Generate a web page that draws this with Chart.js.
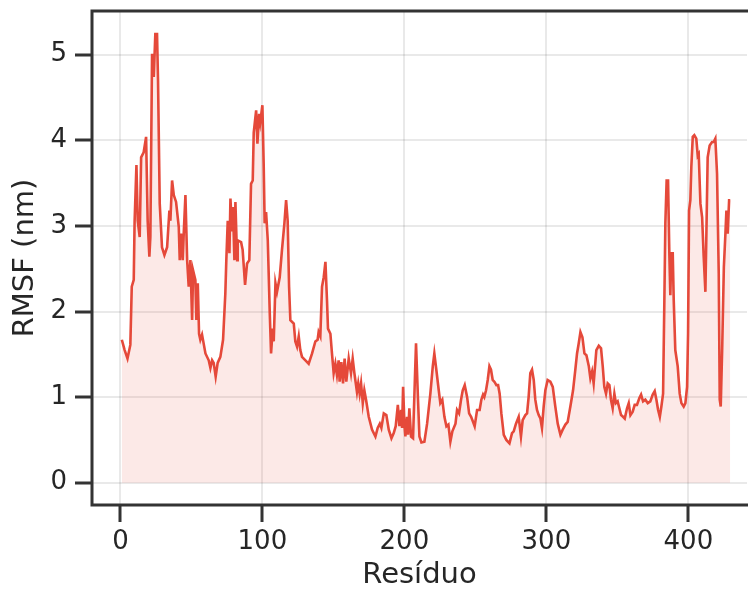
<!DOCTYPE html>
<html>
<head>
<meta charset="utf-8">
<script src="https://cdn.jsdelivr.net/npm/chart.js@4"></script>
<style>
  html, body { margin: 0; padding: 0; background: #fff; overflow: hidden; }
</style>
</head>
<body>
<canvas id="rmsfChart" width="748" height="589"></canvas>
<script>
// --- Dados ---
const residuo = [
  1, 3, 5, 7, 8, 9.4, 10, 11.3, 12.2, 13.6, 14.6, 16.4, 18.1, 19.2, 20.4, 21.1, 22.3, 23.5, 24.6, 25.8,
  26.5, 27.7, 29.3, 31, 32.9, 34.5, 35.2, 36.4, 37.6, 39.2, 41.1, 41.8, 42.7, 43.9, 44.6, 45.8, 47, 48.1, 49.3, 50.5,
  51.2, 52.8, 53.5, 54.5, 55.4, 56.3, 57.5, 59.9, 62.2, 63.4, 64.6, 65.7, 67.1, 68.5, 70.4, 72.3, 73.9, 74.6, 75.6, 76.8,
  77.5, 78.6, 79.3, 80.3, 81, 82.2, 82.6, 85, 86.1, 87.8, 89.2, 90.8, 92, 93.2, 93.9, 95.6, 96.5, 97.7, 98.5, 100,
  100.9, 101.6, 102.6, 103.8, 105.2, 106.1, 107.3, 108, 109.2, 110.3, 112.2, 113.8, 115.5, 116.7, 117.8, 118.8, 119.7, 122.1, 123.2, 124.4,
  125.6, 126.7, 127.9, 130.3, 132.6, 135, 137.3, 138.9, 139.6, 140.8, 142, 143.2, 144.4, 145.5, 146.2, 147.9, 149, 150.2, 151.4, 152.5,
  153.7, 154.4, 155.6, 156.8, 157.9, 159.1, 160.8, 162.4, 163.6, 164.8, 166.6, 167.5, 168.5, 169.5, 170.7, 171.8, 173, 174.9, 177.2, 179.6,
  181.2, 182.7, 183.8, 185.5, 187.3, 189, 190.9, 192.5, 193.9, 195.4, 196.5, 197.7, 198.4, 199.1, 200.1, 200.7, 201.9, 202.6, 203.5, 204.7,
  206.1, 207.3, 208.2, 209.6, 210.6, 212, 214.1, 216, 218.3, 220, 221.1, 222.5, 224.2, 225.3, 226.7, 228.2, 229.6, 231, 232.4, 233.8,
  236, 237.1, 238.5, 239.9, 241.1, 242.5, 244.2, 245.6, 247, 248.4, 249.5, 251.2, 253, 254.2, 255.4, 256.3, 257.5, 258.7, 259.9, 261,
  262.2, 263.4, 264.8, 266, 267.1, 268.3, 270, 271.8, 274, 275.8, 277, 278.6, 280.5, 282.1, 283.3, 285.2, 286.4, 287.5, 288.7, 289.9,
  291.1, 292.2, 293.4, 294.6, 295.8, 296.9, 298.1, 299.3, 300.9, 302.8, 304.5, 306.3, 308, 309.9, 311.5, 313.4, 315, 316.9, 318.8, 320.4,
  321.6, 322.8, 324, 325.4, 326.8, 328.2, 329.9, 331, 332.2, 333.3, 335.2, 336.9, 338.5, 339.7, 340.8, 342, 343.2, 344.4, 345.5, 346.7,
  347.9, 349, 350.2, 351.4, 352.6, 354, 355.2, 356.8, 358, 359.2, 360.8, 362.2, 363.8, 365.5, 366.7, 368.1, 369.7, 371.4, 373.2, 374.9,
  376.3, 377.5, 378.7, 379.9, 381, 382.2, 383.1, 383.8, 384.7, 385.7, 386.6, 387.3, 388, 389, 389.7, 390.8, 392.5, 393.9, 395.1, 396.7,
  397.9, 399.1, 399.8, 400.5, 401.4, 402.1, 403.1, 404.2, 405.6, 406.6, 407.3, 408.5, 409.7, 410.8, 412, 412.7, 413.6, 415, 416.7, 417.8,
  419, 420.2, 421.4, 422.1, 422.8, 423.8, 425, 426.1, 426.8, 427.7, 428.7, 429.5
];
const rmsf = [
  1.67, 1.55, 1.45, 1.61, 2.29, 2.37, 3.05, 3.71, 3.06, 2.87, 3.80, 3.86, 4.04, 3.06, 2.64, 2.87, 5.01, 4.74, 5.24, 5.24,
  4.70, 3.26, 2.75, 2.66, 2.75, 3.18, 3.06, 3.53, 3.36, 3.28, 2.99, 2.60, 2.91, 2.60, 2.91, 3.36, 2.60, 2.29, 2.60, 1.90,
  2.48, 2.37, 1.90, 2.33, 1.74, 1.67, 1.73, 1.51, 1.43, 1.34, 1.43, 1.40, 1.24, 1.40, 1.47, 1.67, 2.21, 2.60, 3.06, 2.68,
  3.32, 2.95, 3.22, 2.60, 3.28, 2.60, 2.83, 2.81, 2.72, 2.31, 2.56, 2.60, 3.49, 3.53, 4.09, 4.35, 3.96, 4.31, 4.21, 4.41,
  3.73, 3.03, 3.16, 2.83, 1.98, 1.51, 1.80, 1.65, 2.33, 2.23, 2.40, 2.72, 3.03, 3.30, 3.06, 2.29, 1.90, 1.86, 1.65, 1.59,
  1.71, 1.55, 1.47, 1.43, 1.39, 1.51, 1.65, 1.67, 1.76, 1.71, 2.29, 2.40, 2.58, 2.13, 1.80, 1.74, 1.51, 1.28, 1.39, 1.26,
  1.43, 1.18, 1.41, 1.16, 1.45, 1.18, 1.45, 1.28, 1.45, 1.28, 1.06, 1.16, 1.04, 1.16, 0.93, 1.08, 0.97, 0.77, 0.62, 0.54,
  0.64, 0.69, 0.64, 0.81, 0.79, 0.62, 0.52, 0.58, 0.66, 0.91, 0.66, 0.85, 0.64, 1.12, 0.66, 0.54, 0.77, 0.56, 0.87, 0.54,
  0.52, 1.16, 1.63, 0.97, 0.54, 0.47, 0.48, 0.69, 1.04, 1.36, 1.51, 1.32, 1.08, 0.93, 0.97, 0.77, 0.66, 0.68, 0.48, 0.60,
  0.69, 0.85, 0.81, 0.97, 1.08, 1.14, 1.00, 0.81, 0.77, 0.71, 0.66, 0.85, 0.85, 0.97, 1.03, 1.00, 1.08, 1.20, 1.36, 1.32,
  1.20, 1.18, 1.14, 1.14, 1.04, 0.81, 0.56, 0.50, 0.46, 0.58, 0.60, 0.69, 0.77, 0.54, 0.73, 0.79, 0.81, 1.00, 1.28, 1.32,
  1.20, 0.97, 0.85, 0.79, 0.75, 0.64, 0.89, 1.08, 1.20, 1.18, 1.12, 0.89, 0.69, 0.56, 0.62, 0.68, 0.71, 0.89, 1.08, 1.32,
  1.51, 1.63, 1.76, 1.70, 1.51, 1.49, 1.36, 1.22, 1.30, 1.16, 1.55, 1.60, 1.57, 1.36, 1.12, 1.04, 1.16, 1.14, 0.97, 0.87,
  1.04, 0.93, 0.95, 0.87, 0.79, 0.77, 0.75, 0.87, 0.93, 0.79, 0.83, 0.91, 0.91, 0.99, 1.03, 0.95, 0.97, 0.93, 0.95, 1.03,
  1.07, 0.97, 0.85, 0.77, 0.89, 1.04, 2.13, 3.03, 3.53, 3.53, 2.68, 2.19, 2.68, 2.68, 2.13, 1.55, 1.36, 1.04, 0.93, 0.89,
  0.93, 1.12, 1.75, 3.18, 3.30, 3.69, 4.04, 4.06, 4.02, 3.82, 3.84, 3.26, 3.10, 2.64, 2.23, 2.91, 3.80, 3.94, 3.98, 3.98,
  4.02, 3.61, 2.44, 0.97, 0.89, 1.55, 2.52, 2.91, 3.18, 2.91, 3.30, 3.30
];
const xTicks = [0, 100, 200, 300, 400];
const yTicks = [0, 1, 2, 3, 4, 5];

const corLinha = '#e5493a';
const corTexto = '#262626';
const corEixo = '#333333';

// Spines esquerda, topo e base (a direita fica fora do recorte)
const molduraPlugin = {
  id: 'moldura',
  afterDatasetsDraw(chart) {
    const { ctx, chartArea: a, width } = chart;
    ctx.save();
    ctx.strokeStyle = corEixo;
    ctx.lineWidth = 3;
    ctx.lineCap = 'square';
    ctx.beginPath();
    ctx.moveTo(width + 5, a.top);
    ctx.lineTo(a.left, a.top);
    ctx.lineTo(a.left, a.bottom);
    ctx.lineTo(width + 5, a.bottom);
    ctx.stroke();
    ctx.restore();
  }
};

const ctx = document.getElementById('rmsfChart');
new Chart(ctx, {
  type: 'line',
  data: {
    datasets: [{
      label: 'RMSF',
      data: residuo.map((r, i) => ({ x: r, y: rmsf[i] })),
      borderColor: corLinha,
      borderWidth: 2.6,
      backgroundColor: 'rgba(231, 76, 60, 0.12)',
      fill: 'origin',
      pointRadius: 0,
      tension: 0
    }]
  },
  options: {
    responsive: false,
    animation: false,
    layout: { padding: { top: 11, right: 1, left: 0, bottom: 0 } },
    plugins: { legend: { display: false }, tooltip: { enabled: false } },
    scales: {
      x: {
        type: 'linear',
        min: -20,
        max: 441.3,
        afterFit(scale) {
          scale.height = 84;
          scale.paddingLeft = 0;
          scale.paddingRight = 0;
        },
        afterBuildTicks(scale) { scale.ticks = xTicks.map(v => ({ value: v })); },
        border: { display: false },
        grid: {
          color: 'rgba(0,0,0,0.085)',
          lineWidth: 2,
          tickColor: corEixo,
          tickWidth: 3,
          tickLength: 17
        },
        ticks: {
          padding: 5,
          maxRotation: 0,
          color: corTexto,
          font: { family: 'DejaVu Sans', size: 26 }
        },
        title: {
          display: true,
          text: 'Resíduo',
          color: corTexto,
          padding: 0,
          font: { family: 'DejaVu Sans', size: 29, lineHeight: 0.9 }
        }
      },
      y: {
        min: -0.26,
        max: 5.51,
        afterFit(scale) {
          scale.width = 92;
          scale.paddingTop = 0;
          scale.paddingBottom = 0;
        },
        afterBuildTicks(scale) { scale.ticks = yTicks.map(v => ({ value: v })); },
        border: { display: false },
        grid: {
          color: 'rgba(0,0,0,0.085)',
          lineWidth: 2,
          tickColor: corEixo,
          tickWidth: 3,
          tickLength: 17
        },
        ticks: {
          padding: 8,
          color: corTexto,
          font: { family: 'DejaVu Sans', size: 26 }
        },
        title: {
          display: true,
          text: 'RMSF (nm)',
          color: corTexto,
          padding: { top: 12, bottom: 0 },
          font: { family: 'DejaVu Sans', size: 29, lineHeight: 0.9 }
        }
      }
    }
  },
  plugins: [molduraPlugin]
});
</script>
</body>
</html>
